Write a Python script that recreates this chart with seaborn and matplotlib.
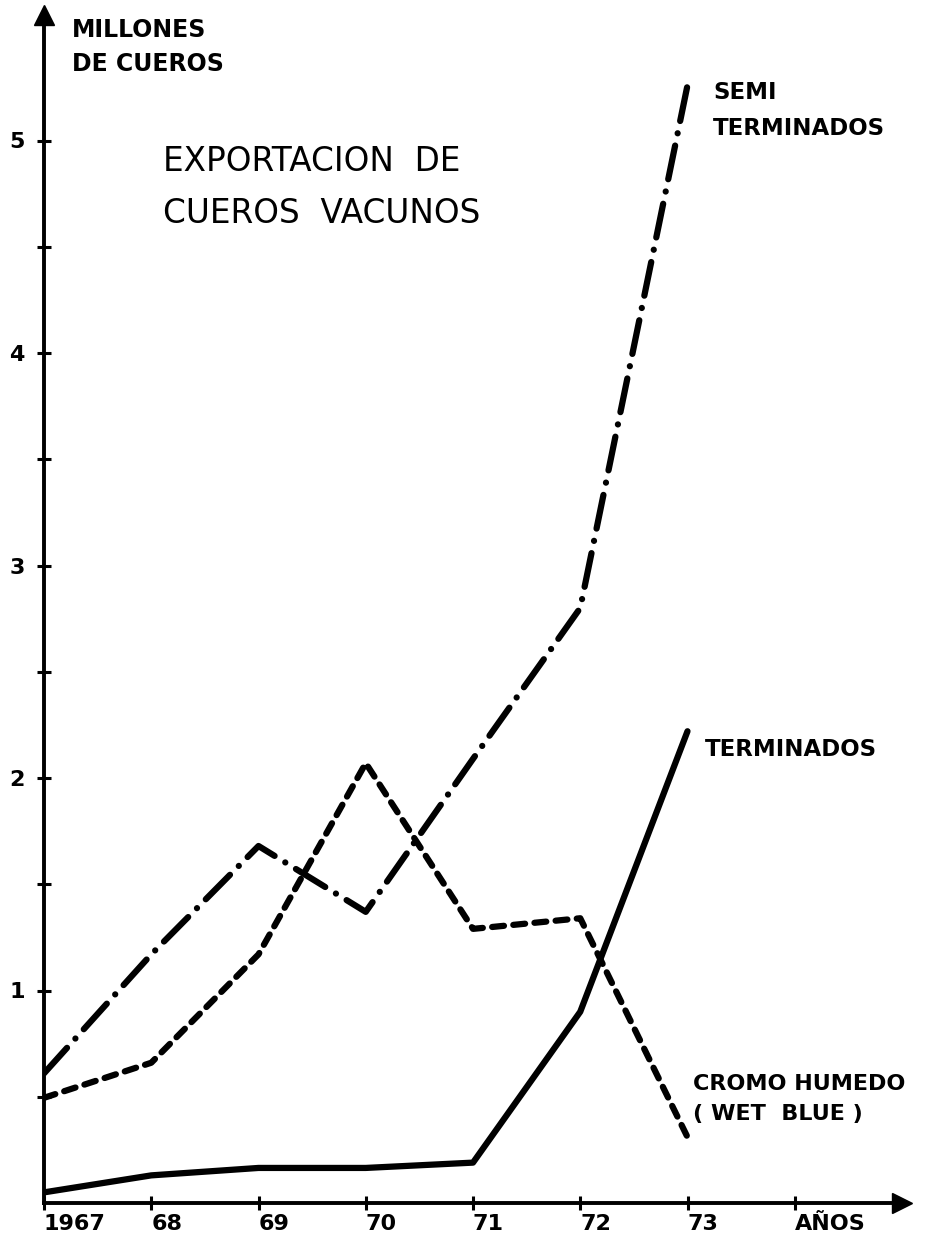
import numpy as np
import pandas as pd
import matplotlib
matplotlib.use('Agg')
import matplotlib.pyplot as plt
import seaborn as sns

# ---------------- DATA ----------------
years = [1967, 1968, 1969, 1970, 1971, 1972, 1973]
terminados = [0.05, 0.13, 0.165, 0.165, 0.19, 0.90, 2.22]
cromo_humedo = [0.495, 0.66, 1.17, 2.07, 1.29, 1.34, 0.31]
semi_terminados = [0.61, 1.17, 1.68, 1.37, 2.09, 2.80, 5.26]

series_names = ['TERMINADOS', 'CROMO', 'SEMI']
x_ticks = [1967, 1968, 1969, 1970, 1971, 1972, 1973, 1974]
x_ticklabels = ['1967', '68', '69', '70', '71', '72', '73', 'AÑOS']
y_major = [1, 2, 3, 4, 5]
y_minor = [0.5, 1.5, 2.5, 3.5, 4.5]

df = pd.DataFrame({
    'AÑO': years * 3,
    'MILLONES': terminados + cromo_humedo + semi_terminados,
    'SERIE': [s for s in series_names for _ in years],
})

sns.set_style('white')
plt.rcParams['font.family'] = ['DejaVu Sans']
plt.rcParams.update({'text.color': 'black', 'xtick.color': 'black', 'ytick.color': 'black',
                     'axes.labelcolor': 'black', 'axes.edgecolor': 'black'})

W, H = 927, 1242
fig = plt.figure(figsize=(W / 100, H / 100), dpi=100)
# axes placed so the origin sits at (44, 1203) px
ax = fig.add_axes([44 / W, (H - 1203) / H, 858 / W, 1188 / H])

dash_map = {'TERMINADOS': '', 'CROMO': (1.9, 1.5), 'SEMI': (5.5, 2.0, 0.01, 2.0)}
sns.lineplot(data=df, x='AÑO', y='MILLONES', style='SERIE', style_order=series_names,
             dashes=dash_map, color='black', linewidth=4.5, estimator=None,
             legend=False, ax=ax, dash_capstyle='round', solid_capstyle='round')

ax.set_xlim(1967, 1975)
ax.set_ylim(0, 1188 / 212.5)

for s in ['top', 'right']:
    ax.spines[s].set_visible(False)
for s in ['left', 'bottom']:
    ax.spines[s].set_linewidth(2.8)
    ax.spines[s].set_color('black')

# arrow heads at the ends of the axes
ax.plot([0], [1], marker='^', color='black', ms=15, transform=ax.transAxes, clip_on=False)
ax.plot([1], [0], marker='>', color='black', ms=15, transform=ax.transAxes, clip_on=False)

ax.set_xticks(x_ticks)
ax.set_xticklabels(x_ticklabels, ha='left', fontweight='bold', fontsize=16)
ax.set_yticks(y_major)
ax.set_yticklabels([str(v) for v in y_major], fontweight='bold', fontsize=16)
ax.set_yticks(y_minor, minor=True)
ax.tick_params(axis='both', which='both', direction='inout', length=9.5, width=2.2,
               color='black', bottom=True, left=True)
ax.tick_params(axis='x', pad=3)
ax.tick_params(axis='y', pad=9)
ax.set_xlabel('')
ax.set_ylabel('')

def ftext(x, y, s, **kw):
    fig.text(x / W, 1 - y / H, s, color='black', **kw)

ftext(72, 18, 'MILLONES\nDE CUEROS', fontsize=17, fontweight='bold', va='top', ha='left', linespacing=1.55)
ftext(163, 145, 'EXPORTACION  DE\nCUEROS  VACUNOS', fontsize=23.5, va='top', ha='left', linespacing=1.72)
ftext(713, 81, 'SEMI\nTERMINADOS', fontsize=16.5, fontweight='bold', va='top', ha='left', linespacing=1.7)
ftext(705, 749, 'TERMINADOS', fontsize=16.5, fontweight='bold', va='center', ha='left')
ftext(693, 1074, 'CROMO HUMEDO\n( WET  BLUE )', fontsize=16, fontweight='bold', va='top', ha='left', linespacing=1.65)

out = 'out.png'
fig.savefig(out, dpi=100)
print('Plot written to', out)
